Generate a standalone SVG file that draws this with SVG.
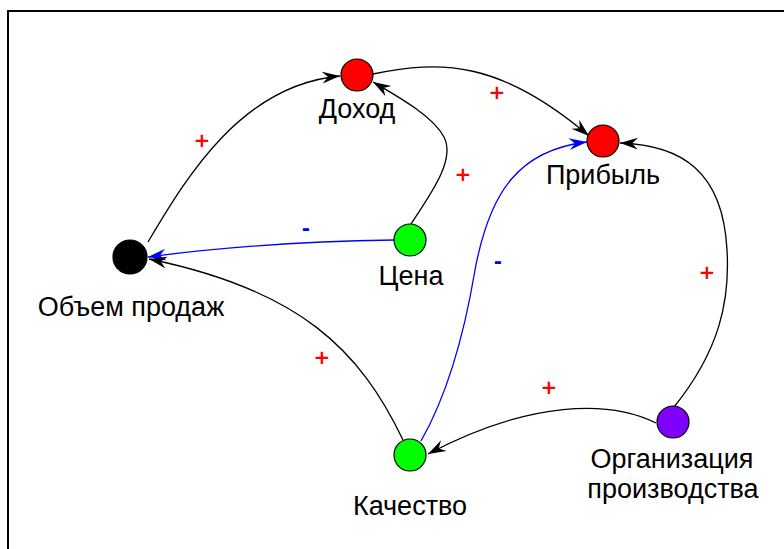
<svg xmlns="http://www.w3.org/2000/svg" width="784" height="549" viewBox="0 0 784 549">
<style>
.lbl{font-family:"Liberation Sans",Arial,sans-serif;font-size:27px;fill:#000;text-anchor:middle}
.pl{font-family:"DejaVu Sans",sans-serif;font-size:20px;font-weight:bold;fill:#ff0000;text-anchor:middle}
.mn{font-family:"DejaVu Sans",sans-serif;font-size:20px;font-weight:bold;fill:#0000ff;text-anchor:middle}
.node{stroke:#000;stroke-width:1.2}
.k{fill:none;stroke:#000;stroke-width:1.3}
.b{fill:none;stroke:#0000ff;stroke-width:1.3}
</style>
<defs>
<marker id="ak" markerUnits="userSpaceOnUse" markerWidth="20" markerHeight="14" refX="18" refY="7" orient="auto">
<path d="M0,1 L18,7 L0,13 L6,7 z" fill="#000"/>
</marker>
<marker id="ab" markerUnits="userSpaceOnUse" markerWidth="20" markerHeight="14" refX="18" refY="7" orient="auto">
<path d="M0,1 L18,7 L0,13 L6,7 z" fill="#0000ff"/>
</marker>
</defs>
<rect width="784" height="549" fill="#fff"/>
<path d="M8,549 L8,11 L784,11" fill="none" stroke="#000" stroke-width="2"/>
<g id="connectors">
<path class="k" d="M148,242 C185,180 240,85 340,76" marker-end="url(#ak)"/>
<path class="k" d="M411,224 C430,195 456,160 444,137 C432,115 395,95 373,82" marker-end="url(#ak)"/>
<path class="k" d="M373,74 C440,60 500,60 589,136" marker-end="url(#ak)"/>
<path class="b" d="M421,441 C450,390 465,330 475,270 C490,190 520,150 587,142" marker-end="url(#ab)"/>
<path class="k" d="M674,407 C720,350 730,300 727,250 C723,170 680,145 620,143" marker-end="url(#ak)"/>
<path class="k" d="M656,423 C610,400 530,400 428,454" marker-end="url(#ak)"/>
<path class="b" d="M394,240 Q260,242 148,257" marker-end="url(#ab)"/>
<path class="k" d="M403,440 C360,350 300,290 149,259" marker-end="url(#ak)"/>
<text class="pl" x="202" y="147">+</text>
<text class="pl" x="463" y="181">+</text>
<text class="pl" x="497" y="99">+</text>
<text class="mn" x="498" y="268">-</text>
<text class="pl" x="707" y="279">+</text>
<text class="pl" x="549" y="394">+</text>
<text class="mn" x="306" y="235">-</text>
<text class="pl" x="322" y="364">+</text>
</g>
<g id="dohod"><circle class="node" cx="357" cy="75" r="16" fill="#ff0000"/><text class="lbl" x="357" y="118">Доход</text></g>
<g id="pribyl"><circle class="node" cx="603" cy="141" r="16" fill="#ff0000"/><text class="lbl" x="603" y="184">Прибыль</text></g>
<g id="obem"><circle class="node" cx="130" cy="257" r="17" fill="#000"/><text class="lbl" x="131" y="316">Объем продаж</text></g>
<g id="cena"><circle class="node" cx="410" cy="240" r="16" fill="#00ff00"/><text class="lbl" x="411" y="285">Цена</text></g>
<g id="kachestvo"><circle class="node" cx="410" cy="455" r="16" fill="#00ff00"/><text class="lbl" x="410" y="515">Качество</text></g>
<g id="org"><circle class="node" cx="673" cy="422" r="16" fill="#8000ff"/><text class="lbl" x="672" y="468">Организация</text><text class="lbl" x="673" y="498">производства</text></g>
</svg>
